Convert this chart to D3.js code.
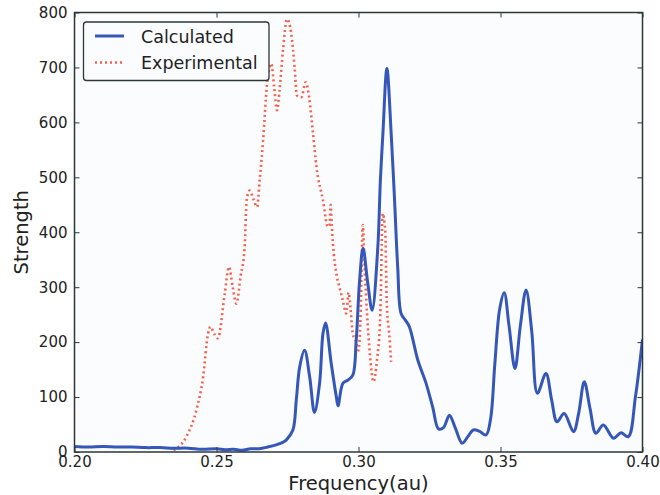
<!DOCTYPE html>
<html>
<head>
<meta charset="utf-8">
<script src="https://cdn.jsdelivr.net/npm/d3@7"></script>
<style>
  body { margin: 0; background: #ffffff; }
  svg { display: block; font-family: "DejaVu Sans", sans-serif; }
</style>
</head>
<body>
<svg id="chart" width="660" height="495"></svg>
<script>
// ---- data ----
const calcFreq = [0.200,0.205,0.210,0.215,0.220,0.225,0.230,0.235,0.240,0.245,0.250,0.253,0.256,0.259,0.262,0.265,0.268,0.271,0.2735,0.2746,0.2769,0.2781,0.2793,0.281,0.2828,0.2845,0.2863,0.2875,0.2884,0.2904,0.2922,0.2928,0.2945,0.2963,0.298,0.2992,0.3004,0.3016,0.3032,0.3048,0.3068,0.3077,0.3086,0.3100,0.3115,0.3127,0.3138,0.3150,0.3165,0.3179,0.3209,0.3238,0.3261,0.3282,0.3300,0.3320,0.3340,0.3365,0.3385,0.3404,0.3425,0.3449,0.3465,0.3480,0.3497,0.3513,0.3530,0.3551,0.3570,0.3590,0.3610,0.3630,0.3660,0.3680,0.3699,0.3724,0.3757,0.3775,0.3795,0.3815,0.3836,0.3862,0.3898,0.3924,0.3950,0.3975,0.4000];
const calcStrength = [10,9,10,9,9,8,8,7,7,5,6,4,5,3,6,6,9,13,18,22,40,95,155,185,137,72,125,216,235,161,100,84,125,131,140,204,313,371,310,258,373,494,580,698,580,458,337,252,240,228,167,125,82,42,45,67,45,16,28,40,38,31,60,160,260,290,230,152,230,295,220,107,143,95,55,70,37,70,128,80,34,49,25,35,28,100,205];

const expFreq = [0.2349,0.2394,0.2429,0.2453,0.2470,0.2479,0.2492,0.2505,0.2529,0.2544,0.2557,0.2570,0.2585,0.2599,0.2606,0.2617,0.2630,0.2643,0.2652,0.2664,0.2678,0.2693,0.2703,0.2713,0.2722,0.2734,0.2748,0.2763,0.2775,0.2783,0.2799,0.2814,0.2826,0.2840,0.2852,0.2875,0.2892,0.2898,0.2902,0.2906,0.2910,0.2922,0.2933,0.2945,0.2957,0.2965,0.2972,0.2980,0.2992,0.3000,0.3008,0.3015,0.3022,0.3030,0.3040,0.3053,0.3065,0.3077,0.3085,0.3094,0.3100,0.3108,0.3115];
const expStrength = [3,28,76,137,215,228,215,207,288,337,300,270,320,371,458,476,460,446,495,567,670,707,664,622,658,731,788,762,700,649,646,673,646,579,519,458,410,412,450,412,379,325,300,275,252,290,260,215,200,185,260,413,330,252,179,128,167,252,434,404,264,216,164];

const seriesNames = ["Calculated", "Experimental"];
const xTicks = [0.20, 0.25, 0.30, 0.35, 0.40];
const yTicks = [0, 100, 200, 300, 400, 500, 600, 700, 800];
const xLabel = "Frequency(au)";
const yLabel = "Strength";

// ---- layout ----
const svg = d3.select("#chart");
const L = 74.5, R = 642.5, T = 12.5, B = 452;
const x = d3.scaleLinear().domain([0.20, 0.40]).range([L, R]);
const y = d3.scaleLinear().domain([0, 800]).range([B, T]);
const blue = "#3457b9", red = "#f4614e", frameCol = "#2c3838", textCol = "#222";

svg.append("rect").attr("x", L).attr("y", T).attr("width", R - L).attr("height", B - T)
  .attr("fill", "#fbfcfe");

svg.append("clipPath").attr("id", "clip").append("rect")
  .attr("x", L).attr("y", T).attr("width", R - L).attr("height", B - T);

const g = svg.append("g").attr("clip-path", "url(#clip)");

const calc = calcFreq.map((f, i) => [f, calcStrength[i]]);
const exp = expFreq.map((f, i) => [f, expStrength[i]]);

g.append("path").datum(exp)
  .attr("fill", "none").attr("stroke", red).attr("stroke-width", 2.6)
  .attr("stroke-dasharray", "2,3")
  .attr("d", d3.line().x(d => x(d[0])).y(d => y(d[1])).curve(d3.curveMonotoneX));

g.append("path").datum(calc)
  .attr("fill", "none").attr("stroke", blue).attr("stroke-width", 3)
  .attr("stroke-linejoin", "round")
  .attr("d", d3.line().x(d => x(d[0])).y(d => y(d[1])).curve(d3.curveCatmullRom.alpha(0.5)));

// ---- axes (inward ticks on all sides) ----
const tl = 5;
const axB = svg.append("g").attr("transform", `translate(0,${B})`)
  .call(d3.axisBottom(x).tickValues(xTicks).tickFormat(d3.format(".2f")).tickSizeInner(-tl).tickSizeOuter(0).tickPadding(4));
const axT = svg.append("g").attr("transform", `translate(0,${T})`)
  .call(d3.axisTop(x).tickValues(xTicks).tickFormat("").tickSizeInner(-tl).tickSizeOuter(0));
const axLft = svg.append("g").attr("transform", `translate(${L},0)`)
  .call(d3.axisLeft(y).tickValues(yTicks).tickFormat(d3.format("d")).tickSizeInner(-tl).tickSizeOuter(0).tickPadding(7));
const axRt = svg.append("g").attr("transform", `translate(${R},0)`)
  .call(d3.axisRight(y).tickValues(yTicks).tickFormat("").tickSizeInner(-tl).tickSizeOuter(0));

[axB, axT, axLft, axRt].forEach(a => {
  a.select(".domain").remove();
  a.selectAll(".tick line").attr("stroke", frameCol).attr("stroke-width", 1);
  a.selectAll(".tick text").attr("fill", textCol).attr("font-size", 15)
    .attr("font-family", "DejaVu Sans, sans-serif");
});

svg.append("rect").attr("x", L).attr("y", T).attr("width", R - L).attr("height", B - T)
  .attr("fill", "none").attr("stroke", frameCol).attr("stroke-width", 1.5);

// ---- axis labels ----
svg.append("text").attr("x", (L + R) / 2).attr("y", 490).attr("text-anchor", "middle")
  .attr("font-size", 19.5).attr("fill", textCol).text(xLabel);
svg.append("text").attr("transform", `translate(27.5,${(T + B) / 2}) rotate(-90)`)
  .attr("text-anchor", "middle").attr("font-size", 19.5).attr("fill", textCol).text(yLabel);

// ---- legend ----
const lg = svg.append("g");
lg.append("rect").attr("x", 83.5).attr("y", 22).attr("width", 185.5).attr("height", 58.5)
  .attr("rx", 3).attr("fill", "#fbfcfe").attr("stroke", frameCol).attr("stroke-width", 1.3);
const legendRows = [
  { name: seriesNames[0], color: blue, dash: null, w: 3, yy: 36 },
  { name: seriesNames[1], color: red, dash: "2,3", w: 2.6, yy: 62.5 }
];
legendRows.forEach(r => {
  lg.append("line").attr("x1", 95).attr("x2", 124).attr("y1", r.yy).attr("y2", r.yy)
    .attr("stroke", r.color).attr("stroke-width", r.w).attr("stroke-dasharray", r.dash);
  lg.append("text").attr("x", 141).attr("y", r.yy + 6.5).attr("font-size", 17.5)
    .attr("fill", textCol).text(r.name);
});
</script>
</body>
</html>
